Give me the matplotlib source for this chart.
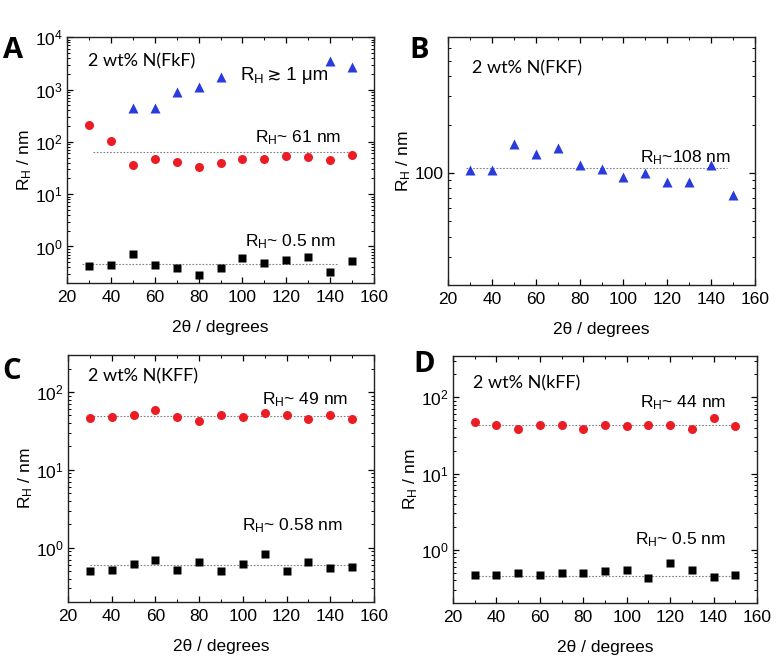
import matplotlib
matplotlib.use("Agg")
import matplotlib.pyplot as plt
from matplotlib.ticker import MultipleLocator, LogLocator, FixedLocator, FixedFormatter, NullFormatter

plt.rcParams['font.family'] = ['Liberation Sans', 'DejaVu Sans']
plt.rcParams['mathtext.fontset'] = 'custom'
plt.rcParams['mathtext.rm'] = 'Liberation Sans'
plt.rcParams['mathtext.it'] = 'Liberation Sans:italic'

# angulos de medida
angulos = [30, 40, 50, 60, 70, 80, 90, 100, 110, 120, 130, 140, 150]

# panel A - N(FkF)
angulosA_azul = [50, 60, 70, 80, 90, 140, 150]
A_azul = [440, 440, 890, 1100, 1730, 3470, 2700]
A_rojo = [214, 105, 36, 48, 41, 33, 39, 48, 48, 54, 52, 46, 56]
A_negro = [0.43, 0.45, 0.73, 0.45, 0.39, 0.28, 0.39, 0.59, 0.49, 0.56, 0.62, 0.32, 0.52]
A_lineas = [(65, 32, 148.5), (0.47, 27, 143)]

# panel B - N(FKF)
B_azul = [104, 104, 151, 132, 142, 112, 106, 94, 100, 88, 88, 112, 73]
B_lineas = [(108, 28, 147)]

# panel C - N(KFF)
C_rojo = [47, 48, 51, 58, 48, 42.5, 51, 48, 54, 51, 45, 51, 45]
C_negro = [0.50, 0.51, 0.61, 0.69, 0.51, 0.65, 0.50, 0.62, 0.84, 0.50, 0.65, 0.54, 0.56]
C_lineas = [(49, 30, 152), (0.59, 30, 152)]

# panel D - N(kFF)
D_rojo = [47, 44, 39, 44, 44, 39, 44, 42, 44, 44, 39, 53, 42]
D_negro = [0.47, 0.47, 0.50, 0.47, 0.50, 0.50, 0.53, 0.55, 0.42, 0.68, 0.55, 0.44, 0.47]
D_lineas = [(44, 30, 150), (0.45, 30, 150)]

rojo = '#ec1c24'
azul = '#2a3bdc'
RH = 'R$_\\mathrm{H}$'

fig = plt.figure(figsize=(7.8, 6.66), dpi=100)
axA = fig.add_axes([0.0859, 0.575, 0.3936, 0.369])
axB = fig.add_axes([0.5744, 0.572, 0.3936, 0.372])
axC = fig.add_axes([0.0872, 0.0961, 0.3923, 0.371])
axD = fig.add_axes([0.5808, 0.0946, 0.3897, 0.371])


def formato(ax, ymin, ymax):
    ax.set_yscale('log')
    ax.set_xlim(20, 160)
    ax.set_ylim(ymin, ymax)
    ax.xaxis.set_major_locator(MultipleLocator(20))
    ax.xaxis.set_minor_locator(MultipleLocator(10))
    ax.yaxis.set_minor_locator(LogLocator(base=10, subs=range(2, 10), numticks=20))
    ax.yaxis.set_minor_formatter(NullFormatter())
    ax.tick_params(which='both', direction='in', top=True, right=True, labelsize=12.5)
    ax.tick_params(axis='y', pad=3)
    ax.tick_params(axis='x', pad=5)
    ax.tick_params(which='major', length=4, width=0.9)
    ax.tick_params(which='minor', length=2.2, width=0.7)
    for s in ax.spines.values():
        s.set_linewidth(1.0)
        s.set_color('#222222')
    ax.set_xlabel('2\u03b8 / degrees', fontsize=12.5, labelpad=11)
    ax.set_ylabel(RH + ' / nm', fontsize=12.5, labelpad=1)


def lineas(ax, lista):
    for (v, x0, x1) in lista:
        ax.plot([x0, x1], [v, v], linestyle=(0, (1.5, 1.5)), color='#808080', lw=0.8, zorder=1)


def rotulo(ax, x, y, s, size=12.5, fam=None):
    return ax.text(x, y, s, transform=ax.transAxes, fontsize=size, va='center', ha='left',
                   family=fam if fam else ['Liberation Sans', 'DejaVu Sans'])


# A
formato(axA, 0.2, 1e4)
axA.yaxis.set_major_locator(LogLocator(base=10, numticks=10))
lineas(axA, A_lineas)
axA.plot(angulosA_azul, A_azul, '^', color=azul, ms=6.5, mec='none')
axA.plot(angulos, A_rojo, 'o', color=rojo, ms=6.5, mec='none')
axA.plot(angulos, A_negro, 's', color='black', ms=5.5, mec='none')
rotulo(axA, 0.068, 0.90, '2 wt% N(FkF)', size=13, fam=['Lato', 'DejaVu Sans'])
t = rotulo(axA, 0.563, 0.846, RH, size=13.5)
t2 = axA.annotate('\u2009\u2273', xy=(1, 0.5), xycoords=t, va='center', ha='left',
                  fontsize=12, family=['DejaVu Sans'])
axA.annotate(' 1 \u03bcm', xy=(1, 0.5), xycoords=t2, va='center', ha='left',
             fontsize=13.5, family=['Liberation Sans', 'DejaVu Sans'])
rotulo(axA, 0.612, 0.593, RH + '~ 61 nm')
rotulo(axA, 0.58, 0.167, RH + '~ 0.5 nm')

# B
formato(axB, 20, 700)
axB.yaxis.set_major_locator(FixedLocator([100]))
axB.yaxis.set_major_formatter(FixedFormatter(['100']))
lineas(axB, B_lineas)
axB.plot(angulos, B_azul, '^', color=azul, ms=6.5, mec='none')
rotulo(axB, 0.078, 0.875, '2 wt% N(FKF)', size=13, fam=['Lato', 'DejaVu Sans'])
rotulo(axB, 0.625, 0.516, RH + '~108 nm')

# C
formato(axC, 0.2, 300)
axC.yaxis.set_major_locator(LogLocator(base=10, numticks=10))
lineas(axC, C_lineas)
axC.plot(angulos, C_rojo, 'o', color=rojo, ms=6.5, mec='none')
axC.plot(angulos, C_negro, 's', color='black', ms=5.5, mec='none')
rotulo(axC, 0.065, 0.915, '2 wt% N(KFF)', size=13, fam=['Lato', 'DejaVu Sans'])
rotulo(axC, 0.634, 0.818, RH + '~ 49 nm')
rotulo(axC, 0.569, 0.308, RH + '~ 0.58 nm')

# D
formato(axD, 0.2, 350)
axD.yaxis.set_major_locator(LogLocator(base=10, numticks=10))
lineas(axD, D_lineas)
axD.plot(angulos, D_rojo, 'o', color=rojo, ms=6.5, mec='none')
axD.plot(angulos, D_negro, 's', color='black', ms=5.5, mec='none')
rotulo(axD, 0.066, 0.89, '2 wt% N(kFF)', size=13, fam=['Lato', 'DejaVu Sans'])
rotulo(axD, 0.615, 0.81, RH + '~ 44 nm')
rotulo(axD, 0.6, 0.255, RH + '~ 0.5 nm')

# letras de panel
for letra, px, py in [('A', 13, 50), ('B', 419, 50), ('C', 12, 371), ('D', 424, 365)]:
    fig.text(px / 780, 1 - py / 666, letra, fontsize=21, fontweight='bold',
             family=['Open Sans', 'DejaVu Sans'], ha='center', va='center')

fig.savefig('out.png', dpi=100)
